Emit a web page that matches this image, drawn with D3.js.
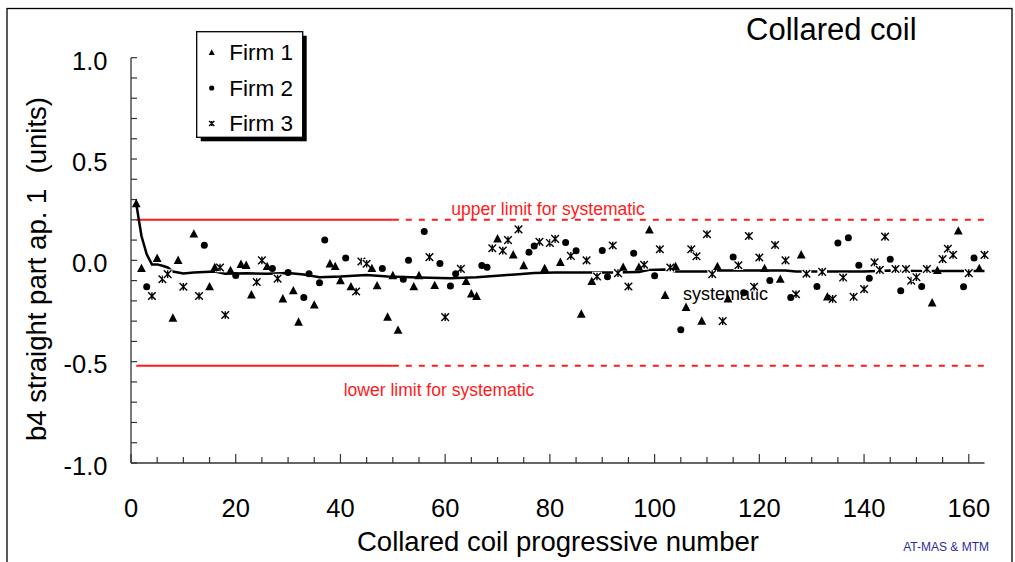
<!DOCTYPE html>
<html><head><meta charset="utf-8">
<script src="https://cdn.jsdelivr.net/npm/d3@7"></script>
<style>body{margin:0;background:#fff;} text{font-family:"Liberation Sans",Arial,sans-serif;}</style>
</head><body>
<svg id="chart" width="1015" height="562"></svg>
<script>
// ---- data ----
const firm1X = [1,2,5,8,9,12,15,16,19,21,22,23,26,29,31,32,35,38,39,40,42,46,47,49,50,51,54,55,58,64,65,66,70,73,75,79,82,86,88,94,97,99,102,104,106,109,112,114,121,124,128,133,153,154,158,162];
const firm1Y = [0.28,-0.04,0.01,-0.285,0.0,0.13,-0.13,-0.035,-0.05,-0.02,-0.025,-0.17,-0.03,-0.19,-0.15,-0.305,-0.22,-0.017,-0.03,-0.10,-0.13,-0.04,-0.125,-0.28,-0.075,-0.345,-0.13,-0.075,-0.124,-0.104,-0.165,-0.178,0.106,0.027,-0.026,-0.04,-0.01,-0.265,-0.104,-0.034,-0.034,0.15,-0.173,-0.03,-0.232,-0.30,-0.03,-0.19,-0.04,-0.093,0.027,-0.18,-0.21,-0.05,0.145,-0.04];
const firm2X = [3,14,20,27,30,33,34,36,37,41,48,52,53,56,59,61,62,67,68,76,77,83,85,90,91,96,100,105,115,117,122,126,131,135,137,139,141,145,147,151,159,161];
const firm2Y = [-0.13,0.075,-0.075,-0.04,-0.06,-0.183,-0.066,-0.11,0.10,0.012,-0.04,-0.093,0.0,0.142,-0.016,-0.126,-0.066,-0.026,-0.034,0.04,0.071,0.088,0.047,0.048,-0.081,0.035,-0.076,-0.342,0.017,-0.16,-0.10,-0.183,-0.129,0.085,0.112,-0.024,-0.088,0.006,-0.15,-0.129,-0.13,0.011];
const firm3X = [4,6,7,10,13,17,18,24,25,28,43,44,45,57,60,63,69,71,72,74,78,80,81,84,87,89,92,93,95,98,101,103,107,108,110,111,113,116,118,119,120,123,125,127,129,132,134,136,138,140,142,143,144,146,148,149,150,152,155,156,157,160,163];
const firm3Y = [-0.176,-0.093,-0.068,-0.13,-0.176,-0.035,-0.27,-0.107,0.0,-0.09,-0.154,-0.006,-0.017,0.016,-0.28,-0.042,0.06,0.048,0.10,0.153,0.091,0.086,0.106,0.022,0.0,-0.08,0.073,-0.063,-0.129,-0.022,0.055,-0.035,0.055,0.02,0.129,-0.068,-0.30,-0.024,0.12,-0.13,0.014,0.076,0.0,-0.167,-0.066,-0.057,-0.19,-0.085,-0.18,-0.142,-0.01,-0.047,0.117,-0.043,-0.043,-0.10,-0.083,-0.043,0.006,0.057,0.027,-0.063,0.027];
const sysX = [1,2,3,4,5,6,7,8,10,12,14,16,18,22,26,30,33,36,40,45,49,55,61,66,70,74,77,81,92,97,99,102,104,110,112,125,127,140,145,150,163];
const sysY = [0.28,0.12,0.03,-0.02,-0.02,-0.027,-0.035,-0.055,-0.065,-0.06,-0.058,-0.055,-0.066,-0.064,-0.066,-0.062,-0.07,-0.083,-0.08,-0.072,-0.08,-0.085,-0.088,-0.083,-0.076,-0.068,-0.063,-0.06,-0.06,-0.058,-0.047,-0.045,-0.055,-0.055,-0.05,-0.05,-0.055,-0.055,-0.05,-0.053,-0.053];
const upperLimit = 0.2, lowerLimit = -0.52, limitSolidEnd = 50, limitStart = 1;
const xTicks = [0,20,40,60,80,100,120,140,160];
const yTicks = [-1.0,-0.5,0.0,0.5,1.0];
const legendLabels = ["Firm 1","Firm 2","Firm 3"];

// ---- layout ----
const svg = d3.select("#chart");
const x = d3.scaleLinear().domain([0,163]).range([131,984.5]);
const y = d3.scaleLinear().domain([-1,1]).range([463,57.7]);

svg.append("rect").attr("x",7).attr("y",8.5).attr("width",1005).attr("height",620)
  .attr("fill","none").attr("stroke","#000").attr("stroke-width",1.3);

// axes
const axisColor = "#333";
svg.append("line").attr("x1",x(0)).attr("x2",x(0)).attr("y1",y(1)).attr("y2",y(-1)).attr("stroke",axisColor).attr("stroke-width",1.3);
svg.append("line").attr("x1",x(0)).attr("x2",x(163)).attr("y1",y(-1)).attr("y2",y(-1)).attr("stroke",axisColor).attr("stroke-width",1.3);
const yMinor = d3.range(-10,11).map(d=>d/10);
svg.selectAll(".yt").data(yMinor).enter().append("line")
  .attr("x1",x(0)).attr("x2",x(0)+6).attr("y1",d=>y(d)).attr("y2",d=>y(d)).attr("stroke",axisColor).attr("stroke-width",1.2);
const xMinor = d3.range(0,161,5);
svg.selectAll(".xt").data(xMinor).enter().append("line")
  .attr("x1",d=>x(d)).attr("x2",d=>x(d)).attr("y1",y(-1)).attr("y2",d=>y(-1)-(d%20===0?9:6)).attr("stroke",axisColor).attr("stroke-width",1.2);
svg.selectAll(".yl").data(yTicks).enter().append("text")
  .attr("x",107.5).attr("y",d=>y(d)+11.8).attr("text-anchor","end").attr("font-size",25.5).attr("fill","#000")
  .text(d=>d.toFixed(1));
svg.selectAll(".xl").data(xTicks).enter().append("text")
  .attr("x",d=>x(d)).attr("y",516.7).attr("text-anchor","middle").attr("font-size",25.5).attr("fill","#000")
  .text(d=>d);

// titles
svg.append("text").attr("x",558).attr("y",551).attr("text-anchor","middle").attr("font-size",27.5).text("Collared coil progressive number");
svg.append("text").attr("transform","translate(46,269) rotate(-90)").attr("text-anchor","middle").attr("font-size",27.5).attr("xml:space","preserve").text("b4 straight part ap. 1  (units)");
svg.append("text").attr("x",746).attr("y",40).attr("font-size",31).text("Collared coil");
svg.append("text").attr("x",989).attr("y",550.7).attr("text-anchor","end").attr("font-size",12).attr("fill","#2b2ba0").text("AT-MAS & MTM");

// limits
const red = "#ff1a1a";
[upperLimit, lowerLimit].forEach(v=>{
  svg.append("line").attr("x1",x(limitStart)).attr("x2",x(limitSolidEnd)).attr("y1",y(v)).attr("y2",y(v)).attr("stroke",red).attr("stroke-width",2);
  svg.append("line").attr("x1",x(limitSolidEnd)).attr("x2",x(163)).attr("y1",y(v)).attr("y2",y(v)).attr("stroke",red).attr("stroke-width",2).attr("stroke-dasharray","6,7");
});
svg.append("text").attr("x",548).attr("y",215).attr("text-anchor","middle").attr("font-size",17.5).attr("fill",red).text("upper limit for systematic");
svg.append("text").attr("x",439).attr("y",396).attr("text-anchor","middle").attr("font-size",17.5).attr("fill",red).text("lower limit for systematic");

// systematic line
const line = d3.line().x(d=>x(d[0])).y(d=>y(d[1]));
svg.append("path").datum(sysX.map((d,i)=>[d,sysY[i]])).attr("d",line).attr("fill","none").attr("stroke","#000").attr("stroke-width",2.5);
svg.append("text").attr("x",683).attr("y",299.5).attr("font-size",18).text("systematic");

// markers
function tri(g, cx, cy, s){ g.append("path").attr("d",`M${cx},${cy-s*0.6}L${cx+s*0.55},${cy+s*0.45}L${cx-s*0.55},${cy+s*0.45}Z`).attr("fill","#000"); }
function circ(g, cx, cy, r){ g.append("circle").attr("cx",cx).attr("cy",cy).attr("r",r).attr("fill","#000"); }
function star(g, cx, cy, s, bg){
  if(bg) g.append("rect").attr("x",cx-s-1).attr("y",cy-s-1).attr("width",2*s+2).attr("height",2*s+2).attr("fill","#fff");
  g.append("path").attr("d",`M${cx-s},${cy-s}L${cx+s},${cy+s}M${cx+s},${cy-s}L${cx-s},${cy+s}M${cx},${cy-s}L${cx},${cy+s}`)
    .attr("stroke","#000").attr("stroke-width",1.4).attr("fill","none");
}
const gm = svg.append("g");
firm3X.forEach((d,i)=>star(gm, x(d), y(firm3Y[i]), 3.8, true));
firm2X.forEach((d,i)=>circ(gm, x(d), y(firm2Y[i]), 3.5));
firm1X.forEach((d,i)=>tri(gm, x(d), y(firm1Y[i]), 8));

// legend
const lg = svg.append("g");
lg.append("rect").attr("x",200.7).attr("y",35.7).attr("width",106).attr("height",105.6).attr("fill","#000");
lg.append("rect").attr("x",196.7).attr("y",31.7).attr("width",106).attr("height",105.6).attr("fill","#fff").attr("stroke","#000").attr("stroke-width",1.3);
const ly = [52.5, 88, 123.5];
tri(lg, 211.7, ly[0], 5.5);
circ(lg, 211.7, ly[1], 2.6);
star(lg, 211.7, ly[2], 2.6, false);
legendLabels.forEach((t,i)=>lg.append("text").attr("x",229.3).attr("y",ly[i]+7.6).attr("font-size",22.5).text(t));
</script>
</body></html>
